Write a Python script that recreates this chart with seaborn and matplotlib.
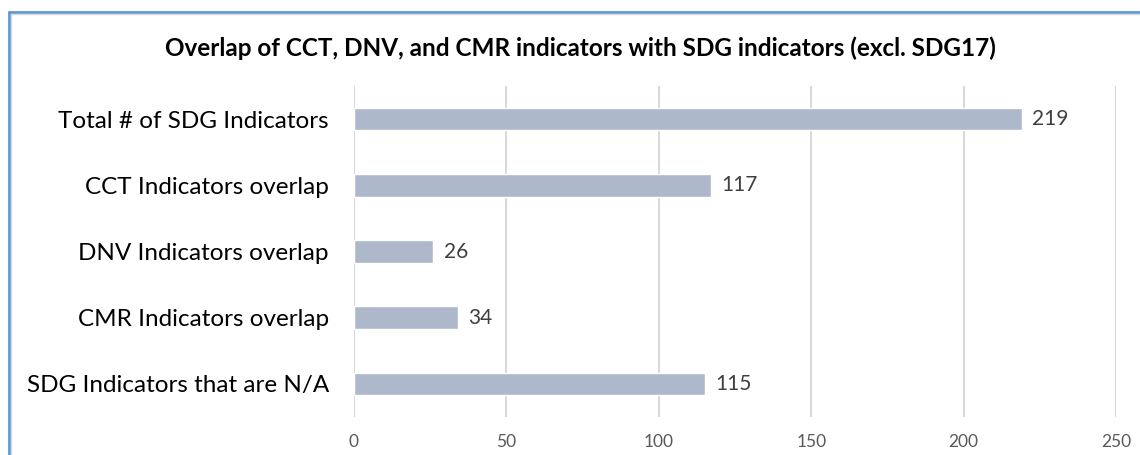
import numpy as np
import pandas as pd
import matplotlib
matplotlib.use('Agg')
import matplotlib.pyplot as plt
import seaborn as sns
from matplotlib.lines import Line2D

# Data
categories = ['Total # of SDG Indicators', 'CCT Indicators overlap',
              'DNV Indicators overlap', 'CMR Indicators overlap',
              'SDG Indicators that are N/A']
values = [219, 117, 26, 34, 115]
x_ticks = [0, 50, 100, 150, 200, 250]

df = pd.DataFrame({'Category': categories, 'Value': values})

sns.set_style('white')
plt.rcParams['font.family'] = ['Lato', 'DejaVu Sans']

fig = plt.figure(figsize=(11.4, 4.55), dpi=100)
ax = fig.add_axes([0.3105, 0.0835, 0.6685, 0.7275])

sns.barplot(data=df, x='Value', y='Category', color='#ADB9CA', width=0.34,
            saturation=1, ax=ax, zorder=3)

# value labels
for i, v in enumerate(values):
    ax.text(v + 3.5, i, str(v), va='center', ha='left', fontsize=15, color='#404040')

ax.set_xlim(0, 250)
ax.set_ylim(4.5, -0.5)
ax.set_xticks(x_ticks)
ax.set_xticklabels([str(t) for t in x_ticks], color='#595959', fontsize=12.5)
ax.tick_params(axis='x', length=0, pad=12)
ax.tick_params(axis='y', length=0, pad=18, labelsize=17.5, labelcolor='black')
ax.grid(axis='x', color='#D9D9D9', linewidth=1.5, zorder=0)
ax.set_axisbelow(True)
for s in ax.spines.values():
    s.set_visible(False)
ax.set_xlabel('')
ax.set_ylabel('')

fig.text(0.509, 1 - 48 / 455,
         'Overlap of CCT, DNV, and CMR indicators with SDG indicators (excl. SDG17)',
         ha='center', va='center', fontsize=17.5, fontweight='bold', color='black')

# chart frame (top and left edges visible)
fig.add_artist(Line2D([9 / 1140, 1], [1 - 12 / 455, 1 - 12 / 455], color='#5B9BD5', lw=2))
fig.add_artist(Line2D([9 / 1140, 9 / 1140], [0, 1 - 12 / 455], color='#5B9BD5', lw=2))
fig.add_artist(Line2D([11 / 1140, 1], [1 - 14 / 455, 1 - 14 / 455], color='#D9D9D9', lw=1))
fig.add_artist(Line2D([11 / 1140, 11 / 1140], [0, 1 - 14 / 455], color='#D9D9D9', lw=1))

fig.savefig('out.png', dpi=100)
